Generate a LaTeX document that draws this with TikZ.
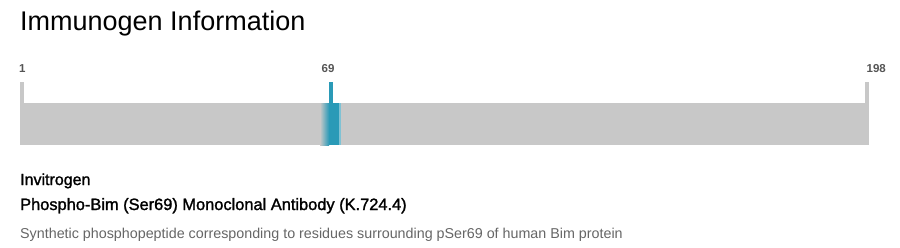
\documentclass[tikz,border=0pt]{standalone}
\usepackage{fontspec}
\setmainfont{Liberation Sans}
\newfontfamily\medfont[FakeBold=1.5]{Liberation Sans}
\usepackage{tikz}
\usetikzlibrary{positioning}
\definecolor{bargray}{HTML}{C8C8C8}
\definecolor{immuno}{HTML}{2A9AB7}
\definecolor{pos}{HTML}{555555}
\definecolor{note}{HTML}{666666}
\tikzset{
  poslabel/.style={font=\fontsize{11.5}{13}\selectfont\bfseries,text=pos,inner sep=0pt},
  heading/.style={font=\fontsize{27}{31}\selectfont,anchor=base west,inner sep=0pt},
  infoline/.style={anchor=base west,inner sep=0pt}
}

\begin{document}
\begin{tikzpicture}[x=1pt,y=-1pt]
  \useasboundingbox[fill=white] (0,0) rectangle (900,247);

  % Title
  \node[heading] (title) at (20,30) {Immunogen Information};

  % Position labels
  \node[poslabel,anchor=base west] (first) at (19,72) {1};
  \node[poslabel,anchor=base] (site) at (328,72) {69};
  \node[poslabel,anchor=base east] (last) at (886,72) {198};

  % Sequence bar with end ticks
  \fill[bargray] (20,103) rectangle (869,145);
  \fill[bargray] (20,82) rectangle (24,103);
  \fill[bargray] (865,82) rectangle (869,103);

  % Immunogen region
  \shade[left color=bargray,right color=immuno] (320,103) rectangle (329,145);
  \fill[immuno] (329,103) rectangle (338.5,145);
  \fill[white] (338.5,103) rectangle (339.3,145);
  \fill[immuno!60!white] (339.3,103) rectangle (340.5,145);
  \fill[immuno] (329,82) rectangle (333,103);

  % Product text
  \node[infoline,font=\medfont\fontsize{16}{18}\selectfont] (vendor) at (20,185) {Invitrogen};
  \node[infoline,font=\medfont\fontsize{16.4}{19}\selectfont] (product) at (20,210)
    {Phospho-Bim (Ser69) Monoclonal Antibody (K.724.4)};
  \node[infoline,font=\fontsize{14.3}{16}\selectfont,text=note] (desc) at (20,238)
    {Synthetic phosphopeptide corresponding to residues surrounding pSer69 of human Bim protein};
\end{tikzpicture}
\end{document}
